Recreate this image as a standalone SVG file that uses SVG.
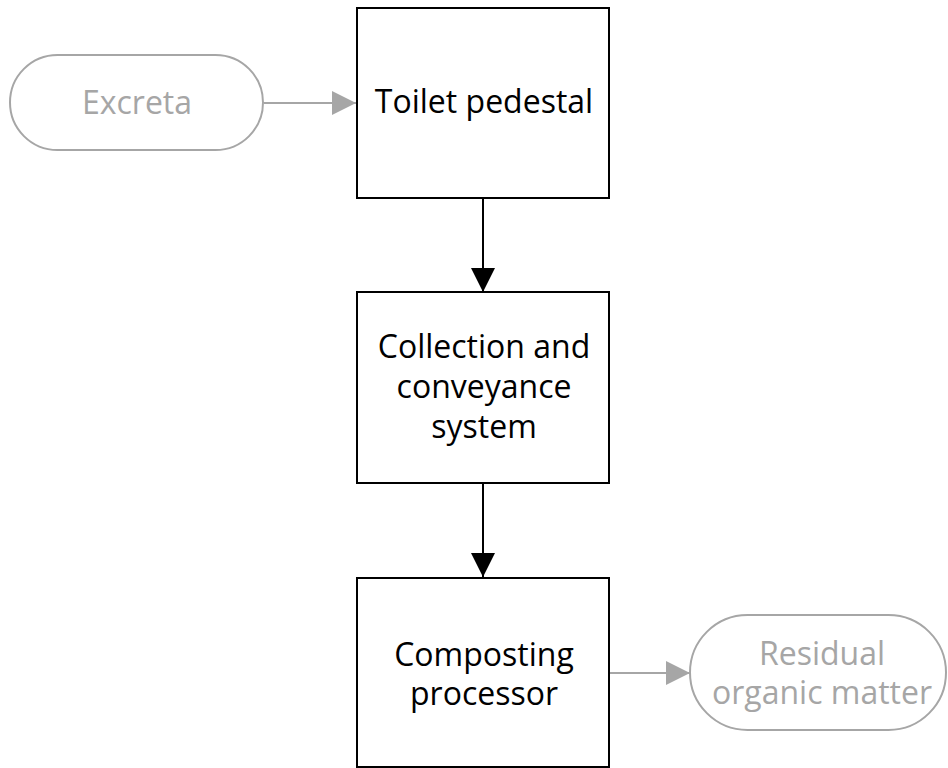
<svg xmlns="http://www.w3.org/2000/svg" width="948" height="768" viewBox="0 0 948 768">
<defs>
<style>
.box{fill:#fff;stroke:#000;stroke-width:2}
.term{fill:#fff;stroke:#a6a6a6;stroke-width:2}
.t{font-family:"Open Sans","Noto Sans","DejaVu Sans",sans-serif;font-size:32px;text-anchor:middle;fill:#000}
.g{fill:#a6a6a6}
.blk{stroke:#000;stroke-width:2;fill:none}
.gry{stroke:#a6a6a6;stroke-width:2;fill:none}
</style>
<marker id="ab" markerUnits="userSpaceOnUse" markerWidth="24" markerHeight="24" viewBox="0 0 22 22" refX="22" refY="11" orient="auto">
<path d="M0,0 L22,11 L0,22 Z" fill="#000"/>
</marker>
<marker id="ag" markerUnits="userSpaceOnUse" markerWidth="24" markerHeight="24" viewBox="0 0 22 22" refX="22" refY="11" orient="auto">
<path d="M0,0 L22,11 L0,22 Z" fill="#a6a6a6"/>
</marker>
</defs>
<g id="connectors">
<line class="gry" x1="264" y1="103" x2="356" y2="103" marker-end="url(#ag)"/>
<line class="blk" x1="483" y1="198" x2="483" y2="292" marker-end="url(#ab)"/>
<line class="blk" x1="483" y1="483" x2="483" y2="577" marker-end="url(#ab)"/>
<line class="gry" x1="609" y1="673" x2="690" y2="673" marker-end="url(#ag)"/>
</g>
<g id="excreta">
<rect class="term" x="10" y="55" width="253" height="95" rx="47.5"/>
<text class="t g" x="137" y="114">Excreta</text>
</g>
<g id="toilet">
<rect class="box" x="357" y="8" width="252" height="190"/>
<text class="t" x="484" y="113">Toilet pedestal</text>
</g>
<g id="collection">
<rect class="box" x="357" y="292" width="252" height="191"/>
<text class="t" x="484" y="358">Collection and</text>
<text class="t" x="484" y="398">conveyance</text>
<text class="t" x="484" y="438">system</text>
</g>
<g id="composting">
<rect class="box" x="357" y="578" width="252" height="189"/>
<text class="t" x="484" y="666">Composting</text>
<text class="t" x="484" y="705">processor</text>
</g>
<g id="residual">
<rect class="term" x="690" y="615" width="256" height="115" rx="57.5"/>
<text class="t g" x="822" y="665">Residual</text>
<text class="t g" x="822" y="704">organic matter</text>
</g>
</svg>
